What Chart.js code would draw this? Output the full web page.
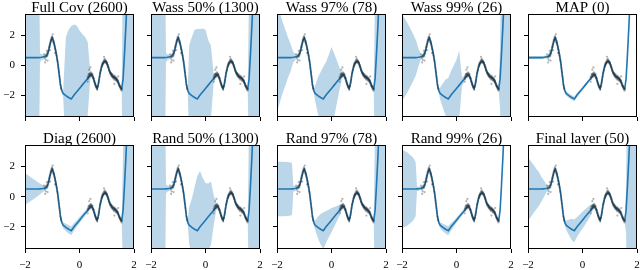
<!DOCTYPE html>
<html><head><meta charset="utf-8">
<script src="https://cdn.jsdelivr.net/npm/chart.js@4.4.1/dist/chart.umd.min.js"></script>
<style>
html,body{margin:0;padding:0;background:#fff;}
#fig{position:relative;width:640px;height:270px;overflow:hidden;background:#fff;}
#fig canvas{position:absolute;}
</style></head>
<body><div id="fig"></div>
<script>
// ---------- data ----------
const titles = ['Full Cov (2600)', 'Wass 50% (1300)', 'Wass 97% (78)', 'Wass 99% (26)', 'MAP (0)',
                'Diag (2600)', 'Rand 50% (1300)', 'Rand 97% (78)', 'Rand 99% (26)', 'Final layer (50)'];
const xTicks = [-2, 0, 2];
const yTicks = [-2, 0, 2];

// prediction grid and predictive mean
const gridX = [
  -2, -1.8, -1.6, -1.5, -1.45, -1.4, -1.3,
  -1.2, -1.15, -1.1, -1.05, -1.0, -0.95, -0.9, -0.85, -0.8, -0.75, -0.7,
  -0.65, -0.6, -0.5, -0.4, -0.3, -0.2, -0.1, 0, 0.1, 0.2, 0.3, 0.4,
  0.45, 0.5, 0.55, 0.6, 0.65, 0.7, 0.75, 0.8, 0.85, 0.9, 0.95, 1.0, 1.05, 1.1, 1.2, 1.3, 1.4, 1.45, 1.5,
  1.55, 1.6, 1.65, 1.7, 1.75, 1.8, 2.0
];
const meanY = [
  0.5, 0.5, 0.5, 0.5, 0.51, 0.52, 0.55,
  0.64, 0.85, 1.22, 1.6, 1.8, 1.6, 1.2, 0.75, 0.2, -0.55, -1.3,
  -1.7, -1.88, -2.03, -2.15, -2.25, -1.99, -1.77, -1.55, -1.33, -1.11, -0.89, -0.66,
  -0.62, -0.78, -1.1, -1.4, -1.55, -1.2, -0.6, -0.2, 0.08, 0.22, 0.26, 0.18, -0.1, -0.4, -0.7, -0.84, -1.02, -1.28, -1.48,
  -1.58, -0.9, 0.7, 2.5, 4.5, 6.8, 16
];

// half-width of the shaded uncertainty band, per panel (same grid)
const wFullCov = [
  9, 9, 9, 9, 0.3, 0.2, 0.15,
  0.12, 0.12, 0.12, 0.12, 0.12, 0.12, 0.12, 0.12, 0.12, 0.12, 0.12,
  0.12, 0.2, 3.9, 4.5, 4.85, 4.7, 4.4, 3.85, 3.4, 3.0, 2.45, 0.15,
  0.12, 0.12, 0.12, 0.12, 0.12, 0.12, 0.12, 0.12, 0.12, 0.12, 0.12, 0.12, 0.12, 0.12, 0.12, 0.12, 0.12, 0.12, 0.12,
  0.15, 9, 9, 12, 14, 16, 25
];
const wWass50 = [
  9, 9, 9, 9, 0.3, 0.2, 0.15,
  0.12, 0.12, 0.12, 0.12, 0.12, 0.12, 0.12, 0.12, 0.12, 0.12, 0.12,
  0.12, 3.2, 3.9, 4.5, 4.65, 4.4, 4.2, 3.9, 3.0, 2.4, 0.3, 0.15,
  0.12, 0.12, 0.12, 0.12, 0.12, 0.12, 0.12, 0.12, 0.12, 0.12, 0.12, 0.12, 0.12, 0.12, 0.12, 0.12, 0.12, 0.12, 0.12,
  0.15, 6, 9, 12, 14, 16, 25
];
const wWass97 = [
  3.6, 2.4, 1.35, 0.9, 0.6, 0.35, 0.15,
  0.12, 0.12, 0.12, 0.12, 0.12, 0.12, 0.12, 0.12, 0.12, 0.12, 0.12,
  0.15, 0.5, 1.2, 1.7, 2.15, 2.2, 2.45, 2.75, 2.1, 1.4, 0.7, 0.15,
  0.12, 0.12, 0.12, 0.12, 0.12, 0.12, 0.12, 0.12, 0.12, 0.12, 0.12, 0.12, 0.12, 0.12, 0.12, 0.12, 0.12, 0.12, 0.12,
  0.2, 6, 9, 12, 14, 16, 25
];
const wWass99 = [
  2.9, 2.3, 1.6, 1.2, 0.95, 0.6, 0.15,
  0.12, 0.12, 0.12, 0.12, 0.12, 0.12, 0.12, 0.12, 0.12, 0.12, 0.12,
  0.15, 0.4, 0.8, 1.2, 1.4, 1.6, 1.75, 1.9, 2.3, 0.3, 0.15, 0.12,
  0.12, 0.12, 0.12, 0.12, 0.12, 0.12, 0.12, 0.12, 0.12, 0.12, 0.12, 0.12, 0.12, 0.12, 0.12, 0.12, 0.12, 0.12, 0.12,
  0.15, 2, 9, 12, 14, 16, 25
];
const wMAP = [
  0.1, 0.1, 0.1, 0.1, 0.1, 0.1, 0.1,
  0.1, 0.1, 0.1, 0.1, 0.1, 0.1, 0.1, 0.1, 0.1, 0.1, 0.1,
  0.12, 0.14, 0.15, 0.15, 0.15, 0.14, 0.12, 0.1, 0.1, 0.1, 0.1, 0.1,
  0.1, 0.1, 0.1, 0.1, 0.1, 0.1, 0.1, 0.1, 0.1, 0.1, 0.1, 0.1, 0.1, 0.1, 0.1, 0.1, 0.1, 0.1, 0.1,
  0.1, 0.1, 0.1, 0.1, 0.1, 0.1, 0.1
];
const wDiag = [
  1.05, 0.8, 0.55, 0.42, 0.36, 0.3, 0.18,
  0.12, 0.12, 0.12, 0.12, 0.12, 0.12, 0.12, 0.12, 0.12, 0.12, 0.12,
  0.15, 0.2, 0.25, 0.28, 0.28, 0.25, 0.22, 0.2, 0.18, 0.16, 0.14, 0.12,
  0.12, 0.12, 0.12, 0.12, 0.12, 0.12, 0.12, 0.12, 0.12, 0.12, 0.12, 0.12, 0.12, 0.12, 0.12, 0.12, 0.12, 0.12, 0.12,
  0.15, 4, 9, 12, 14, 16, 25
];
const wRand50 = [
  9, 9, 9, 9, 0.3, 0.2, 0.15,
  0.12, 0.12, 0.12, 0.12, 0.12, 0.12, 0.12, 0.12, 0.12, 0.12, 0.12,
  0.15, 1.2, 1.9, 2.8, 3.6, 3.67, 3.0, 2.45, 2.2, 2.1, 1.0, 0.15,
  0.12, 0.12, 0.12, 0.12, 0.12, 0.12, 0.12, 0.12, 0.12, 0.12, 0.12, 0.12, 0.12, 0.12, 0.12, 0.12, 0.12, 0.12, 0.12,
  0.15, 6, 9, 12, 14, 16, 25
];
const wRand97 = [
  1.8, 1.8, 1.78, 1.75, 1.72, 0.2, 0.15,
  0.12, 0.12, 0.12, 0.12, 0.12, 0.12, 0.12, 0.12, 0.12, 0.12, 0.12,
  0.15, 0.3, 0.7, 1.0, 1.2, 1.05, 0.9, 0.8, 0.65, 0.5, 0.35, 0.15,
  0.12, 0.12, 0.12, 0.12, 0.12, 0.12, 0.12, 0.12, 0.12, 0.12, 0.12, 0.12, 0.12, 0.12, 0.12, 0.12, 0.12, 0.12, 0.12,
  0.15, 6, 9, 12, 14, 16, 25
];
const wRand99 = [
  2.6, 2.4, 2.1, 1.8, 0.15, 0.13, 0.12,
  0.12, 0.12, 0.12, 0.12, 0.12, 0.12, 0.12, 0.12, 0.12, 0.12, 0.12,
  0.15, 0.2, 0.25, 0.28, 0.3, 0.25, 0.2, 0.17, 0.15, 0.13, 0.12, 0.12,
  0.12, 0.12, 0.12, 0.12, 0.12, 0.12, 0.12, 0.12, 0.12, 0.12, 0.12, 0.12, 0.12, 0.12, 0.12, 0.12, 0.12, 0.12, 0.12,
  0.12, 0.12, 0.12, 0.12, 0.12, 0.12, 0.12
];
const wFinal = [
  2.1, 1.6, 1.1, 0.8, 0.65, 0.5, 0.2,
  0.12, 0.12, 0.12, 0.12, 0.12, 0.12, 0.12, 0.12, 0.12, 0.12, 0.12,
  0.2, 0.3, 0.5, 0.7, 0.75, 0.65, 0.6, 0.55, 0.5, 0.45, 0.35, 0.15,
  0.12, 0.12, 0.12, 0.12, 0.12, 0.12, 0.12, 0.12, 0.12, 0.12, 0.12, 0.12, 0.12, 0.12, 0.12, 0.12, 0.12, 0.12, 0.12,
  0.15, 1.5, 9, 12, 14, 16, 25
];

// observed training points
const dataX = [
  -1.30,-1.27,-1.25,-1.24,-1.22,-1.21,-1.19,-1.18,-1.17,-1.16,
  -1.15,-1.14,-1.13,-1.12,-1.11,-1.10,-1.09,-1.08,-1.07,-1.06,
  -1.05,-1.04,-1.03,-1.02,-1.01,-1.00,-0.99,-0.98,-0.97,-0.96,
  -0.95,-0.94,-0.93,-0.92,-0.91,-0.90,-0.89,-0.88,-0.87,-0.86,
  -0.85,-0.84,-0.83,-0.82,-0.81,-0.80,-0.79,-0.78,-0.77,-0.76,
  -0.75,-0.74,-0.73,-0.72,-0.71,-0.70,-0.69,-0.68,-0.67,
  -1.26,-1.20,-1.08,-0.98,-0.90,
  0.30,0.31,0.32,0.33,0.34,0.35,0.36,0.37,0.38,0.39,
  0.40,0.41,0.42,0.43,0.44,0.45,0.46,0.47,0.48,0.49,
  0.50,0.51,0.52,0.53,0.54,0.55,0.56,0.57,0.58,0.59,
  0.60,0.61,0.62,0.63,0.64,0.65,0.66,0.67,0.68,0.69,
  0.70,0.71,0.72,0.73,0.74,0.75,0.76,0.77,0.78,0.79,
  0.80,0.81,0.82,0.83,0.84,0.85,0.86,0.87,0.88,0.89,
  0.90,0.91,0.92,0.93,0.94,0.95,0.96,0.97,0.98,0.99,
  1.00,1.01,1.02,1.03,1.04,1.05,1.06,1.07,1.08,1.09,
  1.10,1.11,1.12,1.13,1.14,1.15,1.16,1.17,1.18,1.19,
  1.20,1.21,1.22,1.23,1.24,1.25,1.26,1.27,1.28,1.29,
  1.30,1.31,1.32,1.33,1.34,1.35,1.36,1.37,1.38,1.39,
  1.40,1.41,1.42,1.43,1.44,1.45,1.46,1.47,1.48,1.49,
  1.50,1.51,1.52,1.53,1.54,1.55,0.36,0.40,0.90,1.42,
  1.28,0.30
];
const dataY = [
  0.72,0.48,0.60,0.35,0.70,0.55,0.78,0.62,0.30,0.88,
  0.75,1.02,0.95,1.15,1.28,1.20,1.42,1.38,1.58,1.52,
  1.72,1.66,1.85,1.74,1.92,1.78,1.70,1.82,1.55,1.62,
  1.50,1.45,1.38,1.30,1.22,1.12,1.05,0.98,0.85,0.80,
  0.68,0.60,0.48,0.35,0.28,0.15,0.02,-0.12,-0.25,-0.40,
  -0.52,-0.68,-0.80,-0.95,-1.10,-1.28,-1.38,-1.50,-1.58,
  0.18,0.95,1.00,2.05,0.80,
  -0.80,-0.92,-0.70,-0.82,-0.60,-0.75,-0.62,-0.65,-0.55,-0.78,
  -0.58,-0.68,-0.48,-0.62,-0.72,-0.55,-0.70,-0.76,-0.62,-0.82,
  -0.88,-0.92,-0.86,-1.02,-1.12,-1.06,-1.20,-1.28,-1.24,-1.38,
  -1.34,-1.48,-1.44,-1.56,-1.50,-1.64,-1.48,-1.40,-1.38,-1.25,
  -1.15,-1.05,-0.95,-0.82,-0.72,-0.58,-0.50,-0.42,-0.32,-0.28,
  -0.15,-0.10,-0.02,0.05,0.12,0.00,0.18,0.10,0.25,0.15,
  0.35,0.20,0.30,0.42,0.22,0.32,0.18,0.28,0.12,0.22,
  0.10,0.15,0.02,-0.05,0.00,-0.12,-0.20,-0.15,-0.30,-0.38,
  -0.32,-0.45,-0.55,-0.48,-0.60,-0.52,-0.65,-0.72,-0.58,-0.70,
  -0.80,-0.62,-0.75,-0.85,-0.70,-0.82,-0.95,-0.78,-0.88,-0.72,
  -0.90,-0.80,-1.00,-0.85,-0.92,-1.05,-0.85,-1.00,-0.95,-1.10,
  -1.00,-1.15,-1.08,-1.22,-1.20,-1.35,-1.30,-1.40,-1.45,-1.38,
  -1.55,-1.48,-1.62,-1.55,-1.70,-1.58,-0.30,-0.15,0.55,-0.75,
  -1.25,-1.10
];

const bandWidths = [wFullCov, wWass50, wWass97, wWass99, wMAP, wDiag, wRand50, wRand97, wRand99, wFinal];

// ---------- sanity checks ----------
if (meanY.length !== gridX.length) throw new Error('meanY length ' + meanY.length);
bandWidths.forEach((w, i) => { if (w.length !== gridX.length) throw new Error('band ' + i + ' length ' + w.length); });
if (dataX.length !== dataY.length) throw new Error('data lengths ' + dataX.length + ' ' + dataY.length);

// ---------- layout ----------
const plotLeft = [25, 151, 277, 402, 528];
const plotW = 109;
const rowTop = [14, 145];
const rowH = [103, 104];
const bottomH = [8, 21];
const yAxisW = 25, rightPad = 6;
const titleSize = 15, titleLine = 11, titlePadTop = 5, titlePadBottom = 0;
const titleH = titlePadTop + titleLine + titlePadBottom;
const BLUE = '#1f77b4';
const BAND = 'rgba(31,119,180,0.3)';

Chart.defaults.font.family = "'Liberation Serif', 'DejaVu Serif', serif";
Chart.defaults.color = '#000';

const frame = {
  id: 'frame',
  afterDraw(chart) {
    const a = chart.chartArea, ctx = chart.ctx;
    ctx.save();
    ctx.strokeStyle = '#000';
    ctx.lineWidth = 1;
    ctx.strokeRect(a.left + 0.5, a.top + 0.5, a.right - a.left - 1, a.bottom - a.top - 1);
    ctx.restore();
  }
};
const fmt = v => (v < 0 ? '\u2212' + Math.abs(v) : String(v));

const fig = document.getElementById('fig');
const scatterPts = dataX.map((x, i) => ({x: x, y: dataY[i]}));
const meanPts = gridX.map((x, i) => ({x: x, y: meanY[i]}));

titles.forEach((title, i) => {
  const r = Math.floor(i / 5), c = i % 5;
  const w = bandWidths[i];
  const cw = yAxisW + plotW + rightPad;
  const ch = titleH + rowH[r] + bottomH[r];
  const cv = document.createElement('canvas');
  cv.width = cw; cv.height = ch;
  cv.style.left = (plotLeft[c] - yAxisW) + 'px';
  cv.style.top = (rowTop[r] - titleH) + 'px';
  fig.appendChild(cv);

  const lowPts = gridX.map((x, k) => ({x: x, y: meanY[k] - w[k]}));
  const upPts = gridX.map((x, k) => ({x: x, y: meanY[k] + w[k]}));

  new Chart(cv, {
    type: 'line',
    data: {
      datasets: [
        {data: scatterPts, showLine: false, pointRadius: 1.1, pointBorderWidth: 0,
         pointBackgroundColor: 'rgba(40,40,40,0.35)', borderColor: 'rgba(0,0,0,0)', order: 0},
        {data: meanPts, borderColor: BLUE, borderWidth: 1.6, pointRadius: 0, fill: false, tension: 0, order: 1},
        {data: lowPts, borderWidth: 0, borderColor: 'rgba(0,0,0,0)', pointRadius: 0, fill: false, order: 2},
        {data: upPts, borderWidth: 0, borderColor: 'rgba(0,0,0,0)', pointRadius: 0, fill: '-1', backgroundColor: BAND, order: 3}
      ]
    },
    options: {
      responsive: false, animation: false, devicePixelRatio: 1, events: [],
      layout: {padding: {left: 0, right: rightPad, top: 0, bottom: 0}},
      plugins: {
        legend: {display: false},
        tooltip: {enabled: false},
        title: {display: true, text: title, fullSize: false, color: '#000',
                font: {size: titleSize, weight: 'normal', lineHeight: titleLine / titleSize},
                padding: {top: titlePadTop, bottom: titlePadBottom}}
      },
      scales: {
        x: {
          type: 'linear', min: -2, max: 2,
          afterBuildTicks: s => { s.ticks = xTicks.map(v => ({value: v})); },
          afterFit: s => { s.height = bottomH[r]; s.paddingLeft = 0; s.paddingRight = 0; },
          ticks: {display: r === 1, padding: 6, font: {size: 11}, color: '#000', maxRotation: 0, callback: fmt},
          grid: {display: true, drawOnChartArea: false, drawTicks: true, tickLength: 4, color: '#000', lineWidth: 1},
          border: {display: false}
        },
        y: {
          type: 'linear', min: -3.45, max: 3.4,
          afterBuildTicks: s => { s.ticks = yTicks.map(v => ({value: v})); },
          afterFit: s => { s.width = yAxisW; s.paddingTop = 0; s.paddingBottom = 0; },
          ticks: {display: c === 0, padding: 6, font: {size: 11}, color: '#000', callback: fmt},
          grid: {display: true, drawOnChartArea: false, drawTicks: true, tickLength: 4, color: '#000', lineWidth: 1},
          border: {display: false}
        }
      }
    },
    plugins: [frame]
  });
});
</script>
</body></html>
